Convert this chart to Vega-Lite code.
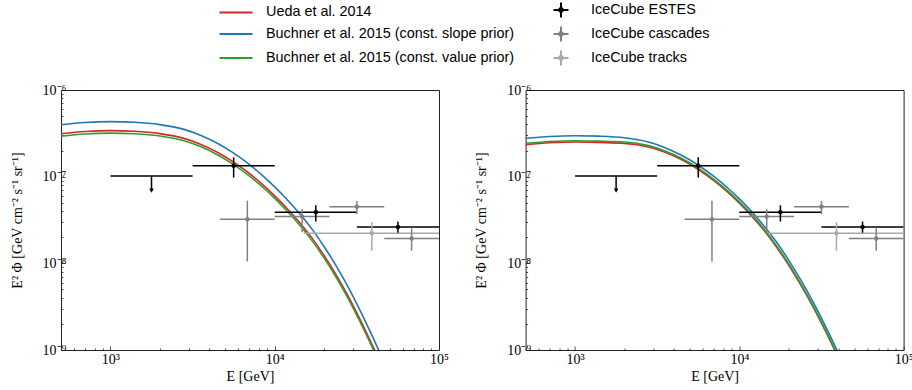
{
  "$schema": "https://vega.github.io/schema/vega-lite/v6.json",
  "background": "white",
  "padding": {"left": 9, "top": 0, "right": 0, "bottom": 5},
  "spacing": 86.6,
  "bounds": "flush",
  "datasets": {
    "curves": [
      {"panel": "L", "series": "Ueda et al. 2014", "E": 500, "flux": 3.133e-7},
      {"panel": "L", "series": "Ueda et al. 2014", "E": 700, "flux": 3.319e-7},
      {"panel": "L", "series": "Ueda et al. 2014", "E": 1000, "flux": 3.396e-7},
      {"panel": "L", "series": "Ueda et al. 2014", "E": 1400, "flux": 3.342e-7},
      {"panel": "L", "series": "Ueda et al. 2014", "E": 2000, "flux": 3.141e-7},
      {"panel": "L", "series": "Ueda et al. 2014", "E": 2800, "flux": 2.767e-7},
      {"panel": "L", "series": "Ueda et al. 2014", "E": 3500, "flux": 2.388e-7},
      {"panel": "L", "series": "Ueda et al. 2014", "E": 4500, "flux": 1.901e-7},
      {"panel": "L", "series": "Ueda et al. 2014", "E": 5600, "flux": 1.479e-7},
      {"panel": "L", "series": "Ueda et al. 2014", "E": 7000, "flux": 1.089e-7},
      {"panel": "L", "series": "Ueda et al. 2014", "E": 8500, "flux": 7.998e-8},
      {"panel": "L", "series": "Ueda et al. 2014", "E": 10000, "flux": 5.998e-8},
      {"panel": "L", "series": "Ueda et al. 2014", "E": 12000, "flux": 4.207e-8},
      {"panel": "L", "series": "Ueda et al. 2014", "E": 14000, "flux": 3.034e-8},
      {"panel": "L", "series": "Ueda et al. 2014", "E": 17000, "flux": 1.914e-8},
      {"panel": "L", "series": "Ueda et al. 2014", "E": 20000, "flux": 1.225e-8},
      {"panel": "L", "series": "Ueda et al. 2014", "E": 24000, "flux": 7.03e-9},
      {"panel": "L", "series": "Ueda et al. 2014", "E": 28000, "flux": 4.188e-9},
      {"panel": "L", "series": "Ueda et al. 2014", "E": 33000, "flux": 2.275e-9},
      {"panel": "L", "series": "Ueda et al. 2014", "E": 38000, "flux": 1.303e-9},
      {"panel": "L", "series": "Ueda et al. 2014", "E": 44000, "flux": 7.05e-10},
      {"panel": "L", "series": "Buchner et al. 2015 (const. slope prior)", "E": 500, "flux": 3.979e-7},
      {"panel": "L", "series": "Buchner et al. 2015 (const. slope prior)", "E": 700, "flux": 4.215e-7},
      {"panel": "L", "series": "Buchner et al. 2015 (const. slope prior)", "E": 1000, "flux": 4.313e-7},
      {"panel": "L", "series": "Buchner et al. 2015 (const. slope prior)", "E": 1400, "flux": 4.244e-7},
      {"panel": "L", "series": "Buchner et al. 2015 (const. slope prior)", "E": 2000, "flux": 3.989e-7},
      {"panel": "L", "series": "Buchner et al. 2015 (const. slope prior)", "E": 2800, "flux": 3.514e-7},
      {"panel": "L", "series": "Buchner et al. 2015 (const. slope prior)", "E": 3500, "flux": 3.033e-7},
      {"panel": "L", "series": "Buchner et al. 2015 (const. slope prior)", "E": 4500, "flux": 2.414e-7},
      {"panel": "L", "series": "Buchner et al. 2015 (const. slope prior)", "E": 5600, "flux": 1.878e-7},
      {"panel": "L", "series": "Buchner et al. 2015 (const. slope prior)", "E": 7000, "flux": 1.383e-7},
      {"panel": "L", "series": "Buchner et al. 2015 (const. slope prior)", "E": 8500, "flux": 1.016e-7},
      {"panel": "L", "series": "Buchner et al. 2015 (const. slope prior)", "E": 10000, "flux": 7.62e-8},
      {"panel": "L", "series": "Buchner et al. 2015 (const. slope prior)", "E": 12000, "flux": 5.34e-8},
      {"panel": "L", "series": "Buchner et al. 2015 (const. slope prior)", "E": 14000, "flux": 3.853e-8},
      {"panel": "L", "series": "Buchner et al. 2015 (const. slope prior)", "E": 17000, "flux": 2.431e-8},
      {"panel": "L", "series": "Buchner et al. 2015 (const. slope prior)", "E": 20000, "flux": 1.556e-8},
      {"panel": "L", "series": "Buchner et al. 2015 (const. slope prior)", "E": 24000, "flux": 8.93e-9},
      {"panel": "L", "series": "Buchner et al. 2015 (const. slope prior)", "E": 28000, "flux": 5.32e-9},
      {"panel": "L", "series": "Buchner et al. 2015 (const. slope prior)", "E": 33000, "flux": 2.889e-9},
      {"panel": "L", "series": "Buchner et al. 2015 (const. slope prior)", "E": 38000, "flux": 1.655e-9},
      {"panel": "L", "series": "Buchner et al. 2015 (const. slope prior)", "E": 44000, "flux": 8.95e-10},
      {"panel": "L", "series": "Buchner et al. 2015 (const. slope prior)", "E": 50000, "flux": 5.0e-10},
      {"panel": "L", "series": "Buchner et al. 2015 (const. value prior)", "E": 500, "flux": 2.936e-7},
      {"panel": "L", "series": "Buchner et al. 2015 (const. value prior)", "E": 700, "flux": 3.110e-7},
      {"panel": "L", "series": "Buchner et al. 2015 (const. value prior)", "E": 1000, "flux": 3.182e-7},
      {"panel": "L", "series": "Buchner et al. 2015 (const. value prior)", "E": 1400, "flux": 3.131e-7},
      {"panel": "L", "series": "Buchner et al. 2015 (const. value prior)", "E": 2000, "flux": 2.943e-7},
      {"panel": "L", "series": "Buchner et al. 2015 (const. value prior)", "E": 2800, "flux": 2.593e-7},
      {"panel": "L", "series": "Buchner et al. 2015 (const. value prior)", "E": 3500, "flux": 2.238e-7},
      {"panel": "L", "series": "Buchner et al. 2015 (const. value prior)", "E": 4500, "flux": 1.781e-7},
      {"panel": "L", "series": "Buchner et al. 2015 (const. value prior)", "E": 5600, "flux": 1.386e-7},
      {"panel": "L", "series": "Buchner et al. 2015 (const. value prior)", "E": 7000, "flux": 1.020e-7},
      {"panel": "L", "series": "Buchner et al. 2015 (const. value prior)", "E": 8500, "flux": 7.494e-8},
      {"panel": "L", "series": "Buchner et al. 2015 (const. value prior)", "E": 10000, "flux": 5.620e-8},
      {"panel": "L", "series": "Buchner et al. 2015 (const. value prior)", "E": 12000, "flux": 3.942e-8},
      {"panel": "L", "series": "Buchner et al. 2015 (const. value prior)", "E": 14000, "flux": 2.843e-8},
      {"panel": "L", "series": "Buchner et al. 2015 (const. value prior)", "E": 17000, "flux": 1.793e-8},
      {"panel": "L", "series": "Buchner et al. 2015 (const. value prior)", "E": 20000, "flux": 1.148e-8},
      {"panel": "L", "series": "Buchner et al. 2015 (const. value prior)", "E": 24000, "flux": 6.59e-9},
      {"panel": "L", "series": "Buchner et al. 2015 (const. value prior)", "E": 28000, "flux": 3.924e-9},
      {"panel": "L", "series": "Buchner et al. 2015 (const. value prior)", "E": 33000, "flux": 2.132e-9},
      {"panel": "L", "series": "Buchner et al. 2015 (const. value prior)", "E": 38000, "flux": 1.221e-9},
      {"panel": "L", "series": "Buchner et al. 2015 (const. value prior)", "E": 44000, "flux": 6.61e-10},
      {"panel": "R", "series": "Ueda et al. 2014", "E": 500, "flux": 2.342e-7},
      {"panel": "R", "series": "Ueda et al. 2014", "E": 700, "flux": 2.458e-7},
      {"panel": "R", "series": "Ueda et al. 2014", "E": 1000, "flux": 2.509e-7},
      {"panel": "R", "series": "Ueda et al. 2014", "E": 1400, "flux": 2.480e-7},
      {"panel": "R", "series": "Ueda et al. 2014", "E": 2000, "flux": 2.424e-7},
      {"panel": "R", "series": "Ueda et al. 2014", "E": 2800, "flux": 2.200e-7},
      {"panel": "R", "series": "Ueda et al. 2014", "E": 3500, "flux": 1.925e-7},
      {"panel": "R", "series": "Ueda et al. 2014", "E": 4500, "flux": 1.555e-7},
      {"panel": "R", "series": "Ueda et al. 2014", "E": 5600, "flux": 1.218e-7},
      {"panel": "R", "series": "Ueda et al. 2014", "E": 7000, "flux": 8.98e-8},
      {"panel": "R", "series": "Ueda et al. 2014", "E": 8500, "flux": 6.61e-8},
      {"panel": "R", "series": "Ueda et al. 2014", "E": 10000, "flux": 4.95e-8},
      {"panel": "R", "series": "Ueda et al. 2014", "E": 11540, "flux": 3.744e-8},
      {"panel": "R", "series": "Ueda et al. 2014", "E": 14000, "flux": 2.452e-8},
      {"panel": "R", "series": "Ueda et al. 2014", "E": 17000, "flux": 1.505e-8},
      {"panel": "R", "series": "Ueda et al. 2014", "E": 20000, "flux": 9.50e-9},
      {"panel": "R", "series": "Ueda et al. 2014", "E": 24000, "flux": 5.38e-9},
      {"panel": "R", "series": "Ueda et al. 2014", "E": 28000, "flux": 3.19e-9},
      {"panel": "R", "series": "Ueda et al. 2014", "E": 33000, "flux": 1.736e-9},
      {"panel": "R", "series": "Ueda et al. 2014", "E": 38000, "flux": 1.002e-9},
      {"panel": "R", "series": "Ueda et al. 2014", "E": 44000, "flux": 5.46e-10},
      {"panel": "R", "series": "Buchner et al. 2015 (const. slope prior)", "E": 500, "flux": 2.772e-7},
      {"panel": "R", "series": "Buchner et al. 2015 (const. slope prior)", "E": 700, "flux": 2.909e-7},
      {"panel": "R", "series": "Buchner et al. 2015 (const. slope prior)", "E": 1000, "flux": 2.969e-7},
      {"panel": "R", "series": "Buchner et al. 2015 (const. slope prior)", "E": 1400, "flux": 2.935e-7},
      {"panel": "R", "series": "Buchner et al. 2015 (const. slope prior)", "E": 2000, "flux": 2.813e-7},
      {"panel": "R", "series": "Buchner et al. 2015 (const. slope prior)", "E": 2800, "flux": 2.508e-7},
      {"panel": "R", "series": "Buchner et al. 2015 (const. slope prior)", "E": 3500, "flux": 2.175e-7},
      {"panel": "R", "series": "Buchner et al. 2015 (const. slope prior)", "E": 4500, "flux": 1.740e-7},
      {"panel": "R", "series": "Buchner et al. 2015 (const. slope prior)", "E": 5600, "flux": 1.363e-7},
      {"panel": "R", "series": "Buchner et al. 2015 (const. slope prior)", "E": 7000, "flux": 1.005e-7},
      {"panel": "R", "series": "Buchner et al. 2015 (const. slope prior)", "E": 8500, "flux": 7.40e-8},
      {"panel": "R", "series": "Buchner et al. 2015 (const. slope prior)", "E": 10000, "flux": 5.54e-8},
      {"panel": "R", "series": "Buchner et al. 2015 (const. slope prior)", "E": 11540, "flux": 4.19e-8},
      {"panel": "R", "series": "Buchner et al. 2015 (const. slope prior)", "E": 14000, "flux": 2.757e-8},
      {"panel": "R", "series": "Buchner et al. 2015 (const. slope prior)", "E": 17000, "flux": 1.716e-8},
      {"panel": "R", "series": "Buchner et al. 2015 (const. slope prior)", "E": 20000, "flux": 1.082e-8},
      {"panel": "R", "series": "Buchner et al. 2015 (const. slope prior)", "E": 24000, "flux": 6.14e-9},
      {"panel": "R", "series": "Buchner et al. 2015 (const. slope prior)", "E": 28000, "flux": 3.63e-9},
      {"panel": "R", "series": "Buchner et al. 2015 (const. slope prior)", "E": 33000, "flux": 1.979e-9},
      {"panel": "R", "series": "Buchner et al. 2015 (const. slope prior)", "E": 38000, "flux": 1.142e-9},
      {"panel": "R", "series": "Buchner et al. 2015 (const. slope prior)", "E": 44000, "flux": 6.23e-10},
      {"panel": "R", "series": "Buchner et al. 2015 (const. value prior)", "E": 500, "flux": 2.427e-7},
      {"panel": "R", "series": "Buchner et al. 2015 (const. value prior)", "E": 700, "flux": 2.547e-7},
      {"panel": "R", "series": "Buchner et al. 2015 (const. value prior)", "E": 1000, "flux": 2.600e-7},
      {"panel": "R", "series": "Buchner et al. 2015 (const. value prior)", "E": 1400, "flux": 2.570e-7},
      {"panel": "R", "series": "Buchner et al. 2015 (const. value prior)", "E": 2000, "flux": 2.512e-7},
      {"panel": "R", "series": "Buchner et al. 2015 (const. value prior)", "E": 2800, "flux": 2.280e-7},
      {"panel": "R", "series": "Buchner et al. 2015 (const. value prior)", "E": 3500, "flux": 1.995e-7},
      {"panel": "R", "series": "Buchner et al. 2015 (const. value prior)", "E": 4500, "flux": 1.611e-7},
      {"panel": "R", "series": "Buchner et al. 2015 (const. value prior)", "E": 5600, "flux": 1.262e-7},
      {"panel": "R", "series": "Buchner et al. 2015 (const. value prior)", "E": 7000, "flux": 9.31e-8},
      {"panel": "R", "series": "Buchner et al. 2015 (const. value prior)", "E": 8500, "flux": 6.85e-8},
      {"panel": "R", "series": "Buchner et al. 2015 (const. value prior)", "E": 10000, "flux": 5.13e-8},
      {"panel": "R", "series": "Buchner et al. 2015 (const. value prior)", "E": 11540, "flux": 3.88e-8},
      {"panel": "R", "series": "Buchner et al. 2015 (const. value prior)", "E": 14000, "flux": 2.541e-8},
      {"panel": "R", "series": "Buchner et al. 2015 (const. value prior)", "E": 17000, "flux": 1.560e-8},
      {"panel": "R", "series": "Buchner et al. 2015 (const. value prior)", "E": 20000, "flux": 9.84e-9},
      {"panel": "R", "series": "Buchner et al. 2015 (const. value prior)", "E": 24000, "flux": 5.58e-9},
      {"panel": "R", "series": "Buchner et al. 2015 (const. value prior)", "E": 28000, "flux": 3.30e-9},
      {"panel": "R", "series": "Buchner et al. 2015 (const. value prior)", "E": 33000, "flux": 1.799e-9},
      {"panel": "R", "series": "Buchner et al. 2015 (const. value prior)", "E": 38000, "flux": 1.038e-9},
      {"panel": "R", "series": "Buchner et al. 2015 (const. value prior)", "E": 44000, "flux": 5.66e-10}
    ],
    "points": [
      {"series": "IceCube tracks", "E": 39000, "flux": 2.22e-8, "xlo": 15000, "xhi": 100000, "ylo": 1.40e-8, "yhi": 3.0e-8, "ul": false},
      {"series": "IceCube cascades", "E": 6813, "flux": 3.22e-8, "xlo": 4642, "xhi": 10000, "ylo": 1.05e-8, "yhi": 5.28e-8, "ul": false},
      {"series": "IceCube cascades", "E": 14678, "flux": 3.46e-8, "xlo": 10000, "xhi": 21544, "ylo": 2.29e-8, "yhi": 4.2e-8, "ul": false},
      {"series": "IceCube cascades", "E": 31623, "flux": 4.51e-8, "xlo": 21544, "xhi": 46416, "ylo": 3.71e-8, "yhi": 5.25e-8, "ul": false},
      {"series": "IceCube cascades", "E": 68129, "flux": 1.93e-8, "xlo": 46416, "xhi": 100000, "ylo": 1.40e-8, "yhi": 2.54e-8, "ul": false},
      {"series": "IceCube ESTES", "E": 1778, "flux": 1.02e-7, "xlo": 1000, "xhi": 3162, "ylo": 6.9e-8, "yhi": 1.02e-7, "ul": true},
      {"series": "IceCube ESTES", "E": 5623, "flux": 1.34e-7, "xlo": 3162, "xhi": 10000, "ylo": 9.75e-8, "yhi": 1.67e-7, "ul": false},
      {"series": "IceCube ESTES", "E": 17783, "flux": 3.88e-8, "xlo": 10000, "xhi": 31623, "ylo": 3.03e-8, "yhi": 4.68e-8, "ul": false},
      {"series": "IceCube ESTES", "E": 56234, "flux": 2.63e-8, "xlo": 31623, "xhi": 100000, "ylo": 2.26e-8, "yhi": 3.03e-8, "ul": false}
    ]
  },
  "hconcat": [
    {
      "width": 378,
      "height": 260,
      "layer": [
        {
          "data": {"name": "curves"},
          "transform": [{"filter": "datum.panel == 'L'"}],
          "mark": {"type": "line", "clip": true, "strokeWidth": 1.6, "interpolate": "monotone"},
          "encoding": {
            "x": {"field": "E", "type": "quantitative", "title": "E [GeV]",
              "scale": {"type": "log", "domain": [500, 100000], "nice": false},
              "axis": {
                "values": [500, 600, 700, 800, 900, 1000, 2000, 3000, 4000, 5000, 6000, 7000, 8000, 9000, 10000, 20000, 30000, 40000, 50000, 60000, 70000, 80000, 90000, 100000],
                "labelExpr": "datum.value == 1000 ? '10³' : datum.value == 10000 ? '10⁴' : datum.value == 100000 ? '10⁵' : ''",
                "tickSize": {"condition": {"test": "datum.value == 1000 || datum.value == 10000 || datum.value == 100000", "value": -4}, "value": -2},
                "labelPadding": 6,
                "titleY": 19
              }
            },
            "y": {"field": "flux", "type": "quantitative", "title": "E² Φ [GeV cm⁻² s⁻¹ sr⁻¹]",
              "scale": {"type": "log", "domain": [1e-9, 1e-6], "nice": false},
              "axis": {
                "values": [1e-9, 2e-9, 3e-9, 4e-9, 5e-9, 6e-9, 7e-9, 8e-9, 9e-9, 1e-8, 2e-8, 3e-8, 4e-8, 5e-8, 6e-8, 7e-8, 8e-8, 9e-8, 1e-7, 2e-7, 3e-7, 4e-7, 5e-7, 6e-7, 7e-7, 8e-7, 9e-7, 1e-6],
                "labelExpr": "datum.value == 1e-6 ? '10⁻⁶' : datum.value == 1e-7 ? '10⁻⁷' : datum.value == 1e-8 ? '10⁻⁸' : datum.value == 1e-9 ? '10⁻⁹' : ''",
                "tickSize": {"condition": {"test": "datum.value == 1e-6 || datum.value == 1e-7 || datum.value == 1e-8 || datum.value == 1e-9", "value": -4}, "value": -2},
                "labelPadding": -1,
                "titleX": -37,
                "titleY": 130,
                "titleAngle": -90,
                "titleAlign": "center",
                "titleBaseline": "bottom"
              }
            },
            "color": {"field": "series", "type": "nominal",
              "scale": {"domain": ["Ueda et al. 2014", "Buchner et al. 2015 (const. slope prior)", "Buchner et al. 2015 (const. value prior)", "IceCube ESTES", "IceCube cascades", "IceCube tracks"],
                        "range": ["#d62728", "#1f77b4", "#2ca02c", "#000000", "#808080", "#aaaaaa"]},
              "legend": {"title": null, "orient": "none", "legendX": 165.5, "legendY": -89.6, "columns": 2, "padding": 0, "rowPadding": 1, "columnPadding": 35, "symbolSize": 289, "symbolStrokeWidth": 2, "labelOffset": 20.5, "labelFont": "Liberation Sans", "labelFontSize": 14.4, "labelColor": "#000", "labelLimit": 400,
                "encode": {"symbols": {"update": {
                  "shape": {"signal": "indexof(datum.value, 'IceCube') >= 0 ? 'M-0.88,0H0.88M0,-0.88V0.88M-0.3,0L0,-0.3L0.3,0L0,0.3Z' : 'M-1.94,0H1.94'"},
                  "stroke": {"scale": "color", "field": "value"},
                  "fill": {"scale": "color", "field": "value"},
                  "strokeWidth": {"value": 2},
                  "opacity": {"value": 1}
                }}}}
            }
          }
        },
        {
          "data": {"name": "points"},
          "mark": {"type": "rule", "clip": true, "strokeWidth": 1.5},
          "encoding": {
            "x": {"field": "xlo", "type": "quantitative"},
            "x2": {"field": "xhi"},
            "y": {"field": "flux", "type": "quantitative"},
            "color": {"field": "series", "type": "nominal"}
          }
        },
        {
          "data": {"name": "points"},
          "mark": {"type": "rule", "clip": true, "strokeWidth": 1.5},
          "encoding": {
            "x": {"field": "E", "type": "quantitative"},
            "y": {"field": "ylo", "type": "quantitative"},
            "y2": {"field": "yhi"},
            "color": {"field": "series", "type": "nominal"}
          }
        },
        {
          "data": {"name": "points"},
          "transform": [{"filter": "!datum.ul"}],
          "mark": {"type": "point", "filled": true, "shape": "circle", "size": 20, "opacity": 1},
          "encoding": {
            "x": {"field": "E", "type": "quantitative"},
            "y": {"field": "flux", "type": "quantitative"},
            "color": {"field": "series", "type": "nominal"}
          }
        },
        {
          "data": {"name": "points"},
          "transform": [{"filter": "datum.ul"}],
          "mark": {"type": "point", "filled": true, "shape": "triangle-down", "size": 22, "opacity": 1},
          "encoding": {
            "x": {"field": "E", "type": "quantitative"},
            "y": {"field": "ylo", "type": "quantitative"},
            "color": {"field": "series", "type": "nominal"}
          }
        }
      ]
    },
    {
      "width": 378,
      "height": 260,
      "layer": [
        {
          "data": {"name": "curves"},
          "transform": [{"filter": "datum.panel == 'R'"}],
          "mark": {"type": "line", "clip": true, "strokeWidth": 1.6, "interpolate": "monotone"},
          "encoding": {
            "x": {"field": "E", "type": "quantitative", "title": "E [GeV]",
              "scale": {"type": "log", "domain": [500, 100000], "nice": false},
              "axis": {
                "values": [500, 600, 700, 800, 900, 1000, 2000, 3000, 4000, 5000, 6000, 7000, 8000, 9000, 10000, 20000, 30000, 40000, 50000, 60000, 70000, 80000, 90000, 100000],
                "labelExpr": "datum.value == 1000 ? '10³' : datum.value == 10000 ? '10⁴' : datum.value == 100000 ? '10⁵' : ''",
                "tickSize": {"condition": {"test": "datum.value == 1000 || datum.value == 10000 || datum.value == 100000", "value": -4}, "value": -2},
                "labelPadding": 6,
                "titleY": 19
              }
            },
            "y": {"field": "flux", "type": "quantitative", "title": "E² Φ [GeV cm⁻² s⁻¹ sr⁻¹]",
              "scale": {"type": "log", "domain": [1e-9, 1e-6], "nice": false},
              "axis": {
                "values": [1e-9, 2e-9, 3e-9, 4e-9, 5e-9, 6e-9, 7e-9, 8e-9, 9e-9, 1e-8, 2e-8, 3e-8, 4e-8, 5e-8, 6e-8, 7e-8, 8e-8, 9e-8, 1e-7, 2e-7, 3e-7, 4e-7, 5e-7, 6e-7, 7e-7, 8e-7, 9e-7, 1e-6],
                "labelExpr": "datum.value == 1e-6 ? '10⁻⁶' : datum.value == 1e-7 ? '10⁻⁷' : datum.value == 1e-8 ? '10⁻⁸' : datum.value == 1e-9 ? '10⁻⁹' : ''",
                "tickSize": {"condition": {"test": "datum.value == 1e-6 || datum.value == 1e-7 || datum.value == 1e-8 || datum.value == 1e-9", "value": -4}, "value": -2},
                "labelPadding": -1,
                "titleX": -37,
                "titleY": 130,
                "titleAngle": -90,
                "titleAlign": "center",
                "titleBaseline": "bottom"
              }
            },
            "color": {"field": "series", "type": "nominal"}
          }
        },
        {
          "data": {"name": "points"},
          "mark": {"type": "rule", "clip": true, "strokeWidth": 1.5},
          "encoding": {
            "x": {"field": "xlo", "type": "quantitative"},
            "x2": {"field": "xhi"},
            "y": {"field": "flux", "type": "quantitative"},
            "color": {"field": "series", "type": "nominal"}
          }
        },
        {
          "data": {"name": "points"},
          "mark": {"type": "rule", "clip": true, "strokeWidth": 1.5},
          "encoding": {
            "x": {"field": "E", "type": "quantitative"},
            "y": {"field": "ylo", "type": "quantitative"},
            "y2": {"field": "yhi"},
            "color": {"field": "series", "type": "nominal"}
          }
        },
        {
          "data": {"name": "points"},
          "transform": [{"filter": "!datum.ul"}],
          "mark": {"type": "point", "filled": true, "shape": "circle", "size": 20, "opacity": 1},
          "encoding": {
            "x": {"field": "E", "type": "quantitative"},
            "y": {"field": "flux", "type": "quantitative"},
            "color": {"field": "series", "type": "nominal"}
          }
        },
        {
          "data": {"name": "points"},
          "transform": [{"filter": "datum.ul"}],
          "mark": {"type": "point", "filled": true, "shape": "triangle-down", "size": 22, "opacity": 1},
          "encoding": {
            "x": {"field": "E", "type": "quantitative"},
            "y": {"field": "ylo", "type": "quantitative"},
            "color": {"field": "series", "type": "nominal"}
          }
        }
      ]
    }
  ],
  "config": {
    "font": "Liberation Serif",
    "view": {"stroke": "#222", "strokeWidth": 1},
    "axis": {
      "labelFont": "Liberation Serif", "labelFontSize": 14, "labelColor": "#000",
      "titleFont": "Liberation Serif", "titleFontSize": 14, "titleFontWeight": "normal", "titleColor": "#000",
      "tickColor": "#222", "tickWidth": 0.8, "domain": false, "grid": false,
      "labelOverlap": false, "labelFlush": false
    }
  }
}
